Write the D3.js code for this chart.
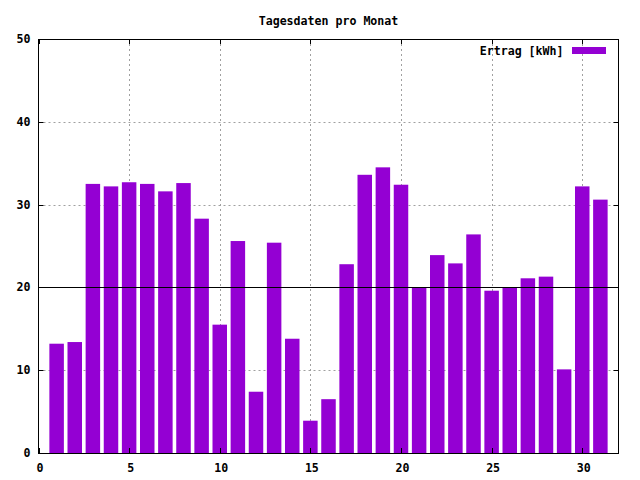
<!DOCTYPE html>
<html>
<head>
<meta charset="utf-8">
<script src="https://cdn.jsdelivr.net/npm/d3@7"></script>
<style>
  html, body { margin: 0; padding: 0; background: #fff; }
  svg { display: block; }
  text { font-family: "DejaVu Sans Mono", "Liberation Mono", monospace; font-weight: bold; font-size: 11.6px; fill: #000; }
</style>
</head>
<body>
<script>
const title = "Tagesdaten pro Monat";
const seriesName = "Ertrag [kWh]";
const days = d3.range(1, 32);
const values = [13.2, 13.4, 32.5, 32.2, 32.7, 32.5, 31.6, 32.6, 28.3, 15.5,
                25.6, 7.4, 25.4, 13.8, 3.9, 6.5, 22.8, 33.6, 34.5, 32.4,
                20.0, 23.9, 22.9, 26.4, 19.6, 20.0, 21.1, 21.3, 10.1, 32.2, 30.6];
const xTicks = [0, 5, 10, 15, 20, 25, 30];
const yTicks = [0, 10, 20, 30, 40, 50];
const refLine = 20;

const W = 640, H = 480;
const pL = 38.5, pR = 618.5, pT = 39, pB = 453;
const barColor = "#9400d3";

const svg = d3.select("body").append("svg").attr("width", W).attr("height", H);
svg.append("rect").attr("width", W).attr("height", H).attr("fill", "#fff");

const x = d3.scaleLinear().domain([0, 32]).range([pL, pR]);
const y = d3.scaleLinear().domain([0, 50]).range([pB, pT]);

// grid
const grid = svg.append("g").attr("stroke", "#a0a0a0").attr("stroke-width", 1).attr("stroke-dasharray", "2,3");
xTicks.filter(t => t > 0).forEach(t => {
  grid.append("line").attr("x1", Math.round(x(t)) + 0.5).attr("x2", Math.round(x(t)) + 0.5).attr("y1", pT).attr("y2", pB);
});
yTicks.filter(t => t > 0 && t < 50).forEach(t => {
  grid.append("line").attr("y1", Math.round(y(t)) + 0.5).attr("y2", Math.round(y(t)) + 0.5).attr("x1", pL).attr("x2", pR);
});

// bars
const bw = 0.8;
svg.append("g").selectAll("rect").data(days).join("rect")
  .attr("x", d => x(d - bw / 2))
  .attr("width", x(bw) - x(0))
  .attr("y", (d, i) => y(values[i]))
  .attr("height", (d, i) => y(0) - y(values[i]))
  .attr("fill", barColor);

// reference line
svg.append("line").attr("x1", pL).attr("x2", pR)
  .attr("y1", Math.round(y(refLine)) + 0.5).attr("y2", Math.round(y(refLine)) + 0.5)
  .attr("stroke", "#000").attr("stroke-width", 1);

// border
svg.append("rect").attr("x", pL).attr("y", pT + 0.5).attr("width", pR - pL).attr("height", pB - pT)
  .attr("fill", "none").attr("stroke", "#000").attr("stroke-width", 1);

// ticks (mirrored, inward)
const tk = svg.append("g").attr("stroke", "#000").attr("stroke-width", 1);
const tl = 5;
yTicks.forEach(t => {
  const yy = Math.round(y(t)) + 0.5;
  tk.append("line").attr("x1", pL).attr("x2", pL + tl).attr("y1", yy).attr("y2", yy);
  tk.append("line").attr("x1", pR).attr("x2", pR - tl).attr("y1", yy).attr("y2", yy);
});
xTicks.forEach(t => {
  const xx = Math.round(x(t)) + 0.5;
  tk.append("line").attr("x1", xx).attr("x2", xx).attr("y1", pB).attr("y2", pB - tl);
  tk.append("line").attr("x1", xx).attr("x2", xx).attr("y1", pT).attr("y2", pT + tl);
});

// tick labels
svg.append("g").selectAll("text").data(yTicks).join("text")
  .attr("x", 30.5).attr("y", d => y(d) + 4).attr("text-anchor", "end").text(d => d);
svg.append("g").selectAll("text").data(xTicks).join("text")
  .attr("x", d => x(d) + 1.5).attr("y", 471.5).attr("text-anchor", "middle").text(d => d);

// title
svg.append("text").attr("x", (pL + pR) / 2).attr("y", 24.5).attr("text-anchor", "middle").text(title);

// legend
svg.append("text").attr("x", 563.5).attr("y", 54.5).attr("text-anchor", "end").text(seriesName);
svg.append("rect").attr("x", 572).attr("y", 47).attr("width", 34).attr("height", 7).attr("fill", barColor);
</script>
</body>
</html>
